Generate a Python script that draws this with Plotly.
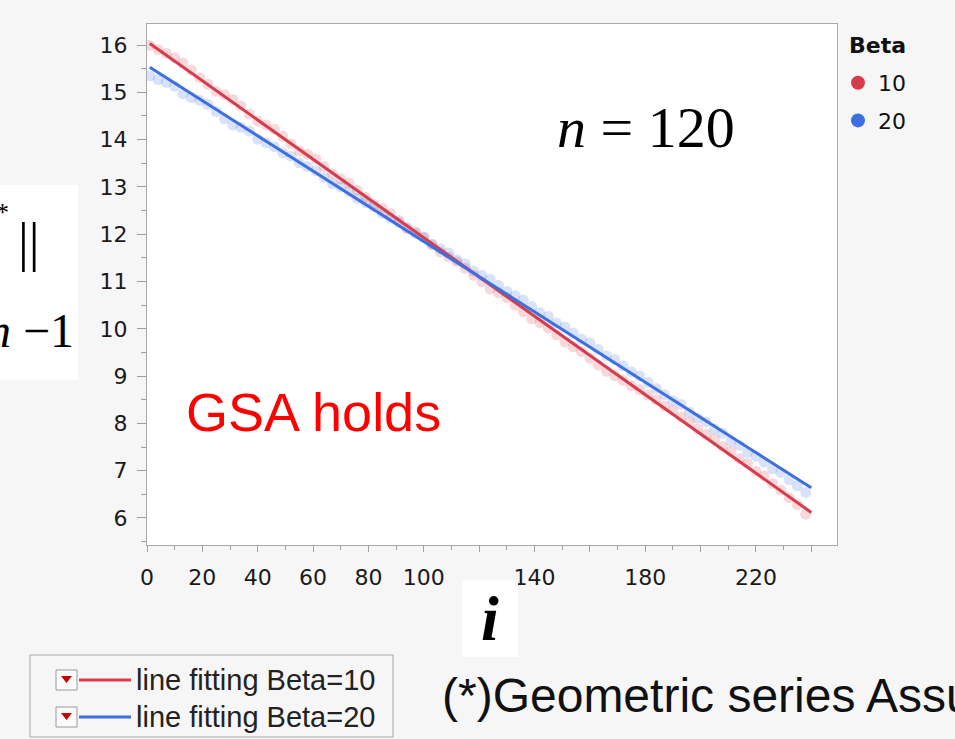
import numpy as np
import plotly.graph_objects as go

# ---------------- data ----------------
n = 120
i_index = list(range(1, 2 * n + 1, 3))          # i = 1, 4, ..., 238

beta_labels = ["10", "20"]
beta10_vals = [15.99, 15.90, 15.82, 15.73, 15.62, 15.47, 15.31, 15.17, 15.02, 14.95,
               14.85, 14.71, 14.54, 14.39, 14.31, 14.22, 14.07, 13.91, 13.76, 13.69,
               13.59, 13.43, 13.28, 13.17, 13.08, 12.93, 12.78, 12.63, 12.55, 12.44,
               12.29, 12.14, 12.05, 11.94, 11.78, 11.62, 11.52, 11.42, 11.28, 11.13,
               10.99, 10.84, 10.76, 10.66, 10.50, 10.36, 10.21, 10.13, 10.02, 9.87,
               9.72, 9.62, 9.52, 9.38, 9.23, 9.10, 9.01, 8.91, 8.80, 8.71,
               8.60, 8.50, 8.36, 8.27, 8.14, 8.03, 7.88, 7.77, 7.67, 7.51,
               7.41, 7.25, 7.15, 6.99, 6.89, 6.73, 6.59, 6.43, 6.28, 6.08]
beta20_vals = [15.35, 15.27, 15.21, 15.13, 14.97, 14.89, 14.83, 14.74, 14.59, 14.44,
               14.31, 14.26, 14.18, 14.01, 13.93, 13.85, 13.72, 13.65, 13.51, 13.43,
               13.34, 13.20, 13.07, 13.00, 12.90, 12.76, 12.67, 12.58, 12.44, 12.34,
               12.25, 12.11, 12.02, 11.93, 11.78, 11.69, 11.60, 11.46, 11.37, 11.22,
               11.13, 11.05, 10.92, 10.79, 10.70, 10.61, 10.47, 10.34, 10.26, 10.12,
               10.04, 9.91, 9.78, 9.70, 9.56, 9.43, 9.35, 9.22, 9.09, 9.00,
               8.87, 8.74, 8.61, 8.48, 8.40, 8.24, 8.11, 8.03, 7.88, 7.79,
               7.63, 7.54, 7.39, 7.31, 7.18, 7.04, 6.96, 6.81, 6.68, 6.54]

x_tick_vals = [0, 20, 40, 60, 80, 100, 120, 140, 160, 180, 200, 220, 240]
x_tick_text = ["0", "20", "40", "60", "80", "100", "", "140", "", "180", "", "220", ""]
y_tick_vals = [6, 7, 8, 9, 10, 11, 12, 13, 14, 15, 16]

# ---------------- styling ----------------
W, H = 955, 739
PX0, PX1, PY0, PY1 = 147, 837, 24, 545
colors = {"10": "#d63c4c", "20": "#3d6fe0"}
BG = "#f6f6f6"


def px(x):
    return (x - PX0) / (PX1 - PX0)


def py(y):
    return (PY1 - y) / (PY1 - PY0)


fig = go.Figure()
series = {"10": beta10_vals, "20": beta20_vals}

for lab in beta_labels:
    fig.add_trace(go.Scatter(
        x=i_index, y=series[lab], mode="markers",
        marker=dict(size=11, color=colors[lab], opacity=0.2, line=dict(width=0)),
        showlegend=False, hoverinfo="skip"))

for lab in beta_labels:
    slope, intercept = np.polyfit(i_index, series[lab], 1)
    xf = [1, 2 * n]
    fig.add_trace(go.Scatter(
        x=xf, y=[intercept + slope * v for v in xf], mode="lines",
        line=dict(color=colors[lab], width=3), showlegend=False,
        name="line fitting Beta=" + lab))

for lab in beta_labels:
    fig.add_trace(go.Scatter(
        x=[None], y=[None], mode="markers", name=lab, legendgroup=lab,
        marker=dict(size=14, color=colors[lab])))

axis_common = dict(
    showline=True, linecolor="#a9a9a9", linewidth=1, mirror=True,
    showgrid=False, zeroline=False, ticks="outside", tickcolor="#a0a0a0",
    tickfont=dict(family="DejaVu Sans", size=22, color="#1a1a1a"),
)

fig.update_xaxes(range=[0, 249.3], tickmode="array", tickvals=x_tick_vals,
                 ticktext=x_tick_text, ticklen=6, ticklabelstandoff=7,
                 minor=dict(tickvals=list(range(10, 250, 20)), ticklen=4,
                            ticks="outside", tickcolor="#a0a0a0"),
                 **axis_common)
fig.update_yaxes(range=[5.429, 16.444], tickmode="array", tickvals=y_tick_vals,
                 ticklen=9, ticklabelstandoff=5,
                 minor=dict(tickvals=[v + 0.5 for v in range(5, 17)], ticklen=5,
                            ticks="outside", tickcolor="#a0a0a0"),
                 **axis_common)

shapes = []
annotations = []

# left (cropped) y-label box
shapes.append(dict(type="rect", xref="paper", yref="paper",
                   x0=px(0), x1=px(78), y0=py(380), y1=py(185),
                   fillcolor="white", line=dict(width=0)))
annotations.append(dict(text="*", x=px(2), y=py(212), xref="paper", yref="paper",
                        showarrow=False, xanchor="center", yanchor="middle",
                        font=dict(family="Liberation Serif", size=26, color="black")))
annotations.append(dict(text="||", x=px(29), y=py(242), xref="paper", yref="paper",
                        showarrow=False, xanchor="center", yanchor="middle",
                        font=dict(family="Liberation Serif", size=54, color="black")))
annotations.append(dict(text="<i>n</i> \u22121", x=px(76), y=py(330), xref="paper", yref="paper",
                        showarrow=False, xanchor="right", yanchor="middle",
                        font=dict(family="Liberation Serif", size=48, color="black")))

# x label "i"
shapes.append(dict(type="rect", xref="paper", yref="paper",
                   x0=px(462), x1=px(518), y0=py(657), y1=py(580),
                   fillcolor="white", line=dict(width=0)))
annotations.append(dict(text="<b><i>i</i></b>", x=px(490), y=py(618), xref="paper", yref="paper",
                        showarrow=False, xanchor="center", yanchor="middle",
                        font=dict(family="Liberation Serif", size=64, color="black")))

# n = 120
annotations.append(dict(text="<i>n</i> = 120", x=px(646), y=py(127), xref="paper", yref="paper",
                        showarrow=False, xanchor="center", yanchor="middle",
                        font=dict(family="Liberation Serif", size=58, color="black")))

# GSA holds
annotations.append(dict(text="GSA holds", x=px(184), y=py(412), xref="paper", yref="paper",
                        showarrow=False, xanchor="left", yanchor="middle",
                        font=dict(family="Liberation Sans", size=54, color="#ff0000")))

# legend title "Beta"
annotations.append(dict(text="<b>Beta</b>", x=px(847), y=py(45), xref="paper", yref="paper",
                        showarrow=False, xanchor="left", yanchor="middle",
                        font=dict(family="DejaVu Sans", size=22, color="#111111")))

# bottom-left line-fit legend
shapes.append(dict(type="rect", xref="paper", yref="paper",
                   x0=px(30), x1=px(393), y0=py(737), y1=py(655),
                   fillcolor="rgba(0,0,0,0)", line=dict(color="#a6a6a6", width=1)))
for lab, yc in zip(beta_labels, [680, 717]):
    shapes.append(dict(type="rect", xref="paper", yref="paper",
                       x0=px(56), x1=px(77), y0=py(yc + 10), y1=py(yc - 10),
                       fillcolor="#fbfbfb", line=dict(color="#9a9a9a", width=1)))
    shapes.append(dict(type="path", xref="paper", yref="paper",
                       path="M {},{} L {},{} L {},{} Z".format(
                           px(61), py(yc - 4), px(72), py(yc - 4), px(66.5), py(yc + 3)),
                       fillcolor="#c80000", line=dict(width=0)))
    shapes.append(dict(type="line", xref="paper", yref="paper",
                       x0=px(79), x1=px(131), y0=py(yc), y1=py(yc),
                       line=dict(color=colors[lab], width=3)))
    annotations.append(dict(text="line fitting Beta=" + lab, x=px(134), y=py(yc),
                            xref="paper", yref="paper", showarrow=False,
                            xanchor="left", yanchor="middle",
                            font=dict(family="Liberation Sans", size=29, color="#222222")))

# footnote (cropped at the right edge, as in the source)
annotations.append(dict(text="(*)Geometric series Assumption", x=px(440), y=py(695),
                        xref="paper", yref="paper", showarrow=False,
                        xanchor="left", yanchor="middle",
                        font=dict(family="Liberation Sans", size=48, color="#111111")))

fig.update_layout(
    width=W, height=H,
    margin=dict(l=PX0, r=W - PX1, t=PY0, b=H - PY1, pad=0),
    paper_bgcolor=BG, plot_bgcolor="white",
    shapes=shapes, annotations=annotations,
    legend=dict(font=dict(family="DejaVu Sans", size=22, color="#111111"),
                x=px(838), y=py(62), xanchor="left", yanchor="top",
                bgcolor="rgba(0,0,0,0)", tracegroupgap=6),
    showlegend=True,
)

fig.write_html(
    "out.html",
    config={"displayModeBar": False},
    post_script="document.body.style.margin='0px';document.body.style.background='%s';" % BG,
)
